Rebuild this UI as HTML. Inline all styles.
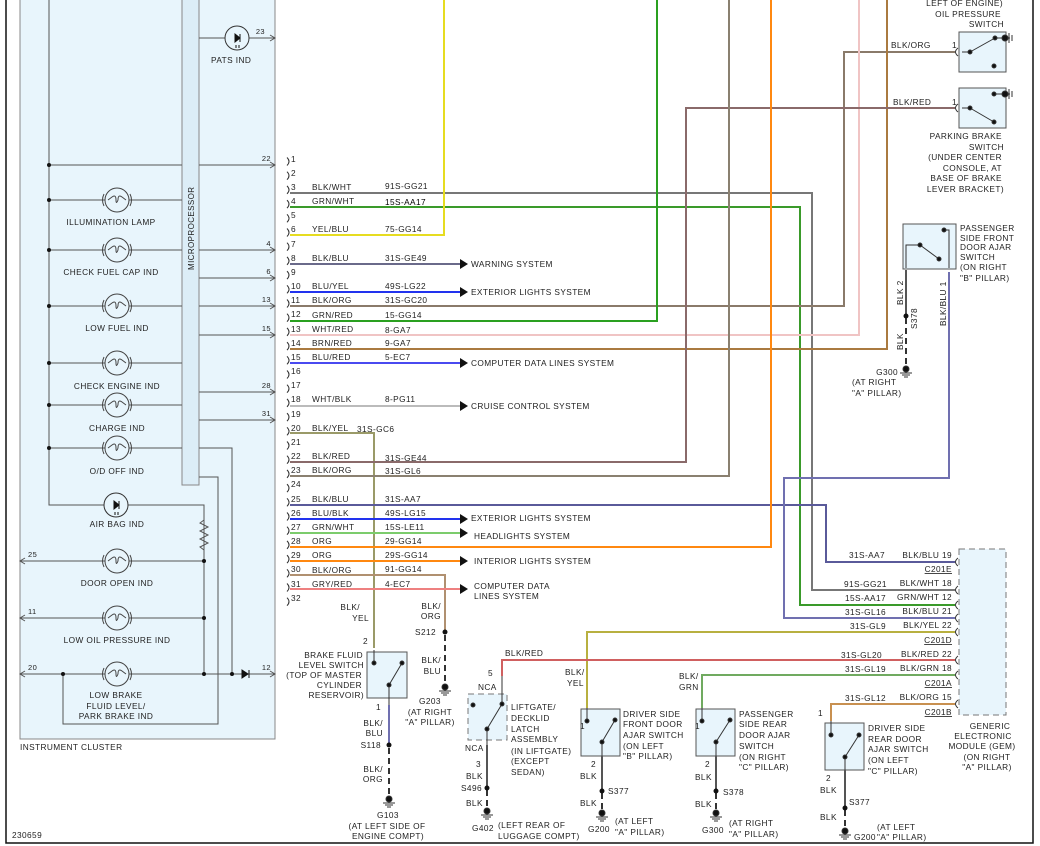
<!DOCTYPE html>
<html><head><meta charset="utf-8"><style>
html,body{margin:0;padding:0;background:#fff;width:1040px;height:846px;overflow:hidden}
svg{display:block}
text{font-family:"Liberation Sans",sans-serif;font-size:8.3px;fill:#222;letter-spacing:0.4px}
.r{text-anchor:end}.m{text-anchor:middle}
</style></head><body>
<svg width="1040" height="846" viewBox="0 0 1040 846" xmlns="http://www.w3.org/2000/svg">
<!-- frame -->
<rect x="6" y="-2" width="1027" height="845" fill="none" stroke="#111" stroke-width="1.5"/>
<!-- cluster box -->
<rect x="20" y="-2" width="255" height="741" fill="#e8f5fc" stroke="#888" stroke-width="1"/>
<rect x="182" y="-2" width="17" height="487" fill="#dcedf7" stroke="#888" stroke-width="1"/>
<text transform="translate(194,270) rotate(-90)" style="font-size:8px">MICROPROCESSOR</text>
<g stroke="#555" stroke-width="1" fill="none">
<path d="M49 -2 V505 H204 V674"/>
<path d="M49 165 H182 M49 200 H182 M49 250 H182 M49 306 H182 M49 363 H182 M49 405 H182 M49 448 H182"/>
<path d="M199 38 H275 M199 165 H275 M199 250 H275 M199 278 H275 M199 306 H275 M199 335 H275 M199 392 H275 M199 420 H275"/>
<path d="M199 448 H232 V674 M199 477 H218 V724 H63 V674"/>
<path d="M20 561 H204 M20 618 H204 M20 674 H275"/>
<path d="M270 35 L275 38 L270 41 M270 162 L275 165 L270 168 M270 247 L275 250 L270 253 M270 275 L275 278 L270 281 M270 303 L275 306 L270 309 M270 332 L275 335 L270 338 M270 389 L275 392 L270 395 M270 417 L275 420 L270 423 M270 671 L275 674 L270 677"/>
<path d="M25 558 L20 561 L25 564 M25 615 L20 618 L25 621 M25 671 L20 674 L25 677"/>
</g>
<path d="M204 520 l-4 3 l8 4 l-8 4 l8 4 l-8 4 l8 4 l-8 4 l4 3" fill="none" stroke="#555" stroke-width="1"/>
<g fill="#111"><circle cx="49" cy="165" r="2"/><circle cx="49" cy="200" r="2"/><circle cx="49" cy="250" r="2"/><circle cx="49" cy="306" r="2"/><circle cx="49" cy="363" r="2"/><circle cx="49" cy="405" r="2"/><circle cx="49" cy="448" r="2"/><circle cx="204" cy="561" r="2"/><circle cx="204" cy="618" r="2"/><circle cx="204" cy="674" r="2"/><circle cx="232" cy="674" r="2"/><circle cx="63" cy="674" r="2"/>
<path d="M242 670 V678 L248 674Z M249 670 V678" stroke="#111"/></g>
<g id="lamps" fill="#e8f5fc" stroke="#444" stroke-width="1"></g>
<!-- LEDs -->
<g stroke="#333" fill="#e8f5fc"><circle cx="237" cy="38" r="12"/><circle cx="116" cy="505" r="12"/></g>
<g fill="#111" stroke="#111"><path d="M235 34 V42 L240 38Z M240 34 V42 M236 45 v3 M239 45 v3"/><path d="M114 501 V509 L119 505Z M119 501 V509 M115 512 v3 M118 512 v3"/></g>
<text x="211" y="63">PATS IND</text>
<text x="265" y="34" class="r" style="font-size:7.5px">23</text>
<text x="271" y="161" class="r" style="font-size:7.5px">22</text>
<text x="271" y="246" class="r" style="font-size:7.5px">4</text>
<text x="271" y="274" class="r" style="font-size:7.5px">6</text>
<text x="271" y="302" class="r" style="font-size:7.5px">13</text>
<text x="271" y="331" class="r" style="font-size:7.5px">15</text>
<text x="271" y="388" class="r" style="font-size:7.5px">28</text>
<text x="271" y="416" class="r" style="font-size:7.5px">31</text>
<text x="271" y="670" class="r" style="font-size:7.5px">12</text>
<text x="28" y="557" style="font-size:7.5px">25</text>
<text x="28" y="614" style="font-size:7.5px">11</text>
<text x="28" y="670" style="font-size:7.5px">20</text>
<text x="111" y="225" class="m">ILLUMINATION LAMP</text>
<text x="111" y="275" class="m">CHECK FUEL CAP IND</text>
<text x="117" y="331" class="m">LOW FUEL IND</text>
<text x="117" y="389" class="m">CHECK ENGINE IND</text>
<text x="117" y="431" class="m">CHARGE IND</text>
<text x="117" y="474" class="m">O/D OFF IND</text>
<text x="117" y="527" class="m">AIR BAG IND</text>
<text x="117" y="586" class="m">DOOR OPEN IND</text>
<text x="117" y="643" class="m">LOW OIL PRESSURE IND</text>
<text x="116" y="698" class="m">LOW BRAKE</text>
<text x="116" y="709" class="m">FLUID LEVEL/</text>
<text x="116" y="719" class="m">PARK BRAKE IND</text>
<text x="20" y="750">INSTRUMENT CLUSTER</text>
<text x="12" y="838">230659</text>

<!-- wires -->
<g fill="none" stroke-width="2">
<path d="M290 193 H812 V590 H955" stroke="#777"/>
<path d="M290 207 H800 V605 H955" stroke="#3a9a2a"/>
<path d="M290 235 H444 V-2" stroke="#e6dc20"/>
<path d="M290 264 H462" stroke="#6a6a8a"/>
<path d="M290 292 H462" stroke="#2233ee"/>
<path d="M290 306 H844 V52 H955" stroke="#8a7a6a"/>
<path d="M290 321 H657 V-2" stroke="#2aa020"/>
<path d="M290 335 H859 V-2" stroke="#f0c4c4"/>
<path d="M290 349 H887 V-2" stroke="#aa7a40"/>
<path d="M290 363 H462" stroke="#4a4af0"/>
<path d="M290 406 H462" stroke="#bbb"/>
<path d="M290 433 H374 V648" stroke="#9a9a68"/>
<path d="M290 462 H686 V108 H955" stroke="#8a6a6a"/>
<path d="M290 476 H729 V-2" stroke="#8a8070"/>
<path d="M290 505 H826 V562 H955" stroke="#5a5a9a"/>
<path d="M290 519 H462" stroke="#2233ee"/>
<path d="M290 533 H462" stroke="#7ccc6c"/>
<path d="M290 547 H771 V-2" stroke="#ff8810"/>
<path d="M290 561 H462" stroke="#ff8810"/>
<path d="M290 575 H445 V632" stroke="#b09070"/>
<path d="M290 589 H462" stroke="#ee8080"/>
<path d="M949 272 V478 H784 V618 H955" stroke="#7070b0"/>
<path d="M955 632 H587 V708" stroke="#b8b040"/>
<path d="M955 660 H502 V676" stroke="#d06060"/>
<path d="M955 675 H702 V708" stroke="#70aa60"/>
<path d="M955 704 H831 V721" stroke="#c89050"/>
<path d="M389 705 V745" stroke="#7070b0"/>
<path d="M487 745 V788 M602 756 V791 M716 756 V791 M845 770 V808 M906 270 V316" stroke="#555"/>
</g>
<g fill="none" stroke="#333" stroke-width="2" stroke-dasharray="6,4">
<path d="M389 748 V800 M445 635 V688 M487 790 V812 M602 793 V814 M716 793 V814 M845 810 V832 M906 318 V370"/>
</g>
<g fill="#111">
<path d="M460 259 L468 264 L460 269Z M460 287 L468 292 L460 297Z M460 358 L468 363 L460 368Z M460 401 L468 406 L460 411Z M460 514 L468 519 L460 524Z M460 528 L468 533 L460 538Z M460 556 L468 561 L460 566Z M460 584 L468 589 L460 594Z"/>
<circle cx="389" cy="745" r="2.5"/><circle cx="445" cy="632" r="2.5"/><circle cx="487" cy="788" r="2.5"/><circle cx="602" cy="791" r="2.5"/><circle cx="716" cy="791" r="2.5"/><circle cx="845" cy="808" r="2.5"/><circle cx="906" cy="316" r="2.5"/>
</g>
<g id="grounds" stroke="#333" fill="#111"></g>
<g id="brk" fill="none" stroke="#333" stroke-width="1"></g>

<!-- pin labels -->
<g style="font-size:7.8px">
<text x="291" y="162">1</text><text x="291" y="176">2</text><text x="291" y="190">3</text><text x="291" y="204">4</text><text x="291" y="218">5</text><text x="291" y="232">6</text><text x="291" y="247">7</text><text x="291" y="261">8</text><text x="291" y="275">9</text><text x="291" y="289">10</text><text x="291" y="303">11</text><text x="291" y="317">12</text><text x="291" y="332">13</text><text x="291" y="346">14</text><text x="291" y="360">15</text><text x="291" y="374">16</text><text x="291" y="388">17</text><text x="291" y="402">18</text><text x="291" y="417">19</text><text x="291" y="431">20</text><text x="291" y="445">21</text><text x="291" y="459">22</text><text x="291" y="473">23</text><text x="291" y="487">24</text><text x="291" y="502">25</text><text x="291" y="516">26</text><text x="291" y="530">27</text><text x="291" y="544">28</text><text x="291" y="558">29</text><text x="291" y="572">30</text><text x="291" y="587">31</text><text x="291" y="601">32</text>
</g>
<text x="312" y="190">BLK/WHT</text><text x="385" y="189">91S-GG21</text>
<text x="312" y="204">GRN/WHT</text><text x="385" y="205" style="fill:#000">15S-AA17</text>
<text x="312" y="232">YEL/BLU</text><text x="385" y="232">75-GG14</text>
<text x="312" y="261">BLK/BLU</text><text x="385" y="261">31S-GE49</text>
<text x="312" y="289">BLU/YEL</text><text x="385" y="289">49S-LG22</text>
<text x="312" y="303">BLK/ORG</text><text x="385" y="303">31S-GC20</text>
<text x="312" y="318">GRN/RED</text><text x="385" y="318">15-GG14</text>
<text x="312" y="332">WHT/RED</text><text x="385" y="333">8-GA7</text>
<text x="312" y="346">BRN/RED</text><text x="385" y="346">9-GA7</text>
<text x="312" y="360">BLU/RED</text><text x="385" y="360">5-EC7</text>
<text x="312" y="402">WHT/BLK</text><text x="385" y="402">8-PG11</text>
<text x="312" y="431">BLK/YEL</text><text x="357" y="432">31S-GC6</text>
<text x="312" y="459">BLK/RED</text><text x="385" y="461">31S-GE44</text>
<text x="312" y="473">BLK/ORG</text><text x="385" y="474">31S-GL6</text>
<text x="312" y="502">BLK/BLU</text><text x="385" y="502">31S-AA7</text>
<text x="312" y="516">BLU/BLK</text><text x="385" y="516">49S-LG15</text>
<text x="312" y="530">GRN/WHT</text><text x="385" y="530">15S-LE11</text>
<text x="312" y="544">ORG</text><text x="385" y="544">29-GG14</text>
<text x="312" y="558">ORG</text><text x="385" y="558">29S-GG14</text>
<text x="312" y="573">BLK/ORG</text><text x="385" y="572">91-GG14</text>
<text x="312" y="587">GRY/RED</text><text x="385" y="587">4-EC7</text>

<text x="471" y="267">WARNING SYSTEM</text>
<text x="471" y="295">EXTERIOR LIGHTS SYSTEM</text>
<text x="471" y="366">COMPUTER DATA LINES SYSTEM</text>
<text x="471" y="409">CRUISE CONTROL SYSTEM</text>
<text x="471" y="521">EXTERIOR LIGHTS SYSTEM</text>
<text x="474" y="539">HEADLIGHTS SYSTEM</text>
<text x="474" y="564">INTERIOR LIGHTS SYSTEM</text>
<text x="474" y="589">COMPUTER DATA</text>
<text x="474" y="599">LINES SYSTEM</text>

<!-- top right switches -->
<text x="1003" y="6" class="r">LEFT OF ENGINE)</text>
<text x="1001" y="17" class="r">OIL PRESSURE</text>
<text x="1004" y="27" class="r">SWITCH</text>
<rect x="959" y="32" width="47" height="40" fill="#e8f5fc" stroke="#555"/>
<rect x="959" y="88" width="47" height="40" fill="#e8f5fc" stroke="#555"/>
<g stroke="#333" fill="#111">
<path d="M962 52 L970 52 M970 52 L995 38 M995 38 H1010 M962 108 H970 M970 108 L994 122 M994 94 H1010" fill="none"/>
<circle cx="970" cy="52" r="2"/><circle cx="995" cy="38" r="2"/><circle cx="994" cy="66" r="2"/><circle cx="1005" cy="38" r="3"/>
<circle cx="970" cy="108" r="2"/><circle cx="994" cy="122" r="2"/><circle cx="994" cy="94" r="2"/><circle cx="1005" cy="94" r="3"/>
<path d="M1009 33 V43 M1012 35 V41 M1009 89 V99 M1012 91 V97" fill="none"/>
</g>
<text x="891" y="48">BLK/ORG</text><text x="952" y="48">1</text>
<text x="893" y="105">BLK/RED</text><text x="952" y="105">1</text>
<text x="1002" y="139" class="r">PARKING BRAKE</text>
<text x="1004" y="150" class="r">SWITCH</text>
<text x="1002" y="160" class="r">(UNDER CENTER</text>
<text x="1002" y="171" class="r">CONSOLE, AT</text>
<text x="1002" y="181" class="r">BASE OF BRAKE</text>
<text x="1004" y="192" class="r">LEVER BRACKET)</text>

<rect x="903" y="224" width="53" height="45" fill="#e8f5fc" stroke="#555"/>
<g stroke="#333" fill="#111"><path d="M906 268 V245 H920 L939 259 M944 230 H949 V268" fill="none"/><circle cx="920" cy="245" r="2"/><circle cx="939" cy="259" r="2"/><circle cx="944" cy="230" r="2"/></g>
<text x="960" y="231">PASSENGER</text><text x="960" y="241">SIDE FRONT</text><text x="960" y="250">DOOR AJAR</text><text x="960" y="260">SWITCH</text><text x="960" y="270">(ON RIGHT</text><text x="960" y="281">"B" PILLAR)</text>
<text transform="translate(903,305) rotate(-90)">BLK 2</text>
<text transform="translate(946,326) rotate(-90)">BLK/BLU 1</text>
<text transform="translate(917,329) rotate(-90)">S378</text>
<text transform="translate(903,350) rotate(-90)">BLK</text>
<text x="898" y="375" class="r">G300</text>
<text x="852" y="385">(AT RIGHT</text>
<text x="852" y="396">"A" PILLAR)</text>

<!-- GEM -->
<rect x="959" y="549" width="47" height="166" fill="#e8f5fc" stroke="#777" stroke-dasharray="6,4"/>
<g style="font-size:7.8px">
<text x="849" y="558">31S-AA7</text><text x="952" y="558" class="r">BLK/BLU 19</text>
<text x="952" y="572" class="r" text-decoration="underline">C201E</text>
<text x="844" y="587">91S-GG21</text><text x="952" y="586" class="r">BLK/WHT 18</text>
<text x="845" y="601">15S-AA17</text><text x="952" y="600" class="r">GRN/WHT 12</text>
<text x="845" y="615">31S-GL16</text><text x="952" y="614" class="r">BLK/BLU 21</text>
<text x="850" y="629">31S-GL9</text><text x="952" y="628" class="r">BLK/YEL 22</text>
<text x="952" y="643" class="r" text-decoration="underline">C201D</text>
<text x="841" y="658">31S-GL20</text><text x="952" y="657" class="r">BLK/RED  22</text>
<text x="845" y="672">31S-GL19</text><text x="952" y="671" class="r">BLK/GRN 18</text>
<text x="952" y="686" class="r" text-decoration="underline">C201A</text>
<text x="845" y="701">31S-GL12</text><text x="952" y="700" class="r">BLK/ORG 15</text>
<text x="952" y="715" class="r" text-decoration="underline">C201B</text>
</g>
<text x="990" y="729" class="m">GENERIC</text><text x="983" y="739" class="m">ELECTRONIC</text><text x="982" y="749" class="m">MODULE (GEM)</text><text x="987" y="760" class="m">(ON RIGHT</text><text x="987" y="770" class="m">"A" PILLAR)</text>

<!-- bottom switches -->
<rect x="367" y="652" width="40" height="46" fill="#e8f5fc" stroke="#555"/>
<rect x="468" y="694" width="39" height="46" fill="#e8f5fc" stroke="#777" stroke-dasharray="6,4"/>
<rect x="581" y="709" width="39" height="47" fill="#e8f5fc" stroke="#555"/>
<rect x="696" y="709" width="39" height="47" fill="#e8f5fc" stroke="#555"/>
<rect x="825" y="723" width="39" height="47" fill="#e8f5fc" stroke="#555"/>
<g stroke="#333" fill="#111">
<path d="M374 650 V663 M389 685 V705 M389 685 L402 663" fill="none"/><circle cx="374" cy="663" r="2"/><circle cx="389" cy="685" r="2"/><circle cx="402" cy="663" r="2"/>
<path d="M502 676 V704 M487 729 V745 M487 729 L502 704" fill="none"/><circle cx="473" cy="705" r="2"/><circle cx="487" cy="729" r="2"/><circle cx="502" cy="704" r="2"/>
<path d="M587 708 V721 M602 742 V756 M602 742 L615 720" fill="none"/><circle cx="587" cy="721" r="2"/><circle cx="602" cy="742" r="2"/><circle cx="615" cy="720" r="2"/>
<path d="M702 708 V721 M716 742 V756 M716 742 L730 720" fill="none"/><circle cx="702" cy="721" r="2"/><circle cx="716" cy="742" r="2"/><circle cx="730" cy="720" r="2"/>
<path d="M831 721 V735 M845 757 V770 M845 757 L859 735" fill="none"/><circle cx="831" cy="735" r="2"/><circle cx="845" cy="757" r="2"/><circle cx="859" cy="735" r="2"/>
</g>
<text x="360" y="610" class="r">BLK/</text><text x="369" y="621" class="r">YEL</text>
<text x="368" y="644" class="r">2</text>
<text x="363" y="658" class="r">BRAKE FLUID</text><text x="364" y="668" class="r">LEVEL SWITCH</text><text x="362" y="678" class="r">(TOP OF MASTER</text><text x="362" y="688" class="r">CYLINDER</text><text x="364" y="698" class="r">RESERVOIR)</text>
<text x="381" y="710" class="r">1</text>
<text x="383" y="726" class="r">BLK/</text><text x="383" y="736" class="r">BLU</text>
<text x="381" y="748" class="r">S118</text>
<text x="383" y="772" class="r">BLK/</text><text x="383" y="782" class="r">ORG</text>
<text x="388" y="818" class="m">G103</text><text x="387" y="829" class="m">(AT LEFT SIDE OF</text><text x="388" y="839" class="m">ENGINE COMPT)</text>
<text x="441" y="609" class="r">BLK/</text><text x="441" y="619" class="r">ORG</text>
<text x="436" y="635" class="r">S212</text>
<text x="441" y="663" class="r">BLK/</text><text x="441" y="674" class="r">BLU</text>
<text x="430" y="704" class="m">G203</text><text x="430" y="715" class="m">(AT RIGHT</text><text x="430" y="725" class="m">"A" PILLAR)</text>

<text x="505" y="656">BLK/RED</text>
<text x="488" y="676">5</text><text x="478" y="690">NCA</text>
<text x="511" y="710">LIFTGATE/</text><text x="511" y="721">DECKLID</text><text x="511" y="732">LATCH</text><text x="511" y="742">ASSEMBLY</text><text x="511" y="754">(IN LIFTGATE)</text><text x="511" y="764">(EXCEPT</text><text x="511" y="775">SEDAN)</text>
<text x="465" y="751">NCA</text><text x="476" y="767">3</text><text x="466" y="779">BLK</text><text x="461" y="791">S496</text><text x="466" y="806">BLK</text>
<text x="472" y="831">G402</text><text x="498" y="828">(LEFT REAR OF</text><text x="498" y="839">LUGGAGE COMPT)</text>

<text x="565" y="675">BLK/</text><text x="567" y="686">YEL</text><text x="580" y="729">1</text>
<text x="623" y="717">DRIVER SIDE</text><text x="623" y="727">FRONT DOOR</text><text x="623" y="738">AJAR SWITCH</text><text x="623" y="749">(ON LEFT</text><text x="623" y="759">"B" PILLAR)</text>
<text x="591" y="767">2</text><text x="580" y="779">BLK</text><text x="608" y="794">S377</text><text x="580" y="806">BLK</text>
<text x="588" y="832">G200</text><text x="615" y="824">(AT LEFT</text><text x="615" y="835">"A" PILLAR)</text>

<text x="679" y="679">BLK/</text><text x="679" y="690">GRN</text><text x="695" y="729">1</text>
<text x="739" y="717">PASSENGER</text><text x="739" y="727">SIDE REAR</text><text x="739" y="738">DOOR AJAR</text><text x="739" y="749">SWITCH</text><text x="739" y="760">(ON RIGHT</text><text x="739" y="770">"C" PILLAR)</text>
<text x="705" y="767">2</text><text x="695" y="780">BLK</text><text x="723" y="795">S378</text><text x="695" y="807">BLK</text>
<text x="702" y="833">G300</text><text x="729" y="826">(AT RIGHT</text><text x="729" y="837">"A" PILLAR)</text>

<text x="818" y="716">1</text>
<text x="868" y="731">DRIVER SIDE</text><text x="868" y="742">REAR DOOR</text><text x="868" y="752">AJAR SWITCH</text><text x="868" y="763">(ON LEFT</text><text x="868" y="774">"C" PILLAR)</text>
<text x="826" y="781">2</text><text x="820" y="793">BLK</text><text x="849" y="805">S377</text><text x="820" y="820">BLK</text>
<text x="854" y="840">G200</text><text x="877" y="830">(AT LEFT</text><text x="877" y="840">"A" PILLAR)</text>
</svg>
<script>
var ns="http://www.w3.org/2000/svg";
function el(p,t,a){var e=document.createElementNS(ns,t);for(var k in a)e.setAttribute(k,a[k]);document.getElementById(p).appendChild(e);return e;}
[200,250,306,363,405,448,561,618,674].forEach(function(y){var x=117;
el('lamps','circle',{cx:x,cy:y,r:12});
el('lamps','path',{d:'M'+(x-13)+' '+(y-6)+' q-3 6 0 12 M'+(x+13)+' '+(y-6)+' q3 6 0 12 M'+(x-9)+' '+y+' l4 -3 q4 -3 4 3 q0 5 2 0 q0 -6 4 -3 l4 3',fill:'none'});});
for(var n=1;n<=32;n++){var y=150.3+14.2*n;el('brk','path',{d:'M287 '+(y-7)+' q4 4 0 8'});}
[[955,52],[955,108],[955,562],[955,590],[955,605],[955,618],[955,632],[955,660],[955,675],[955,704]].forEach(function(p){el('brk','path',{d:'M'+(p[0]+3)+' '+(p[1]-4)+' q-5 4 0 8'});});
[[389,802],[445,690],[487,814],[602,816],[716,816],[845,834],[906,372]].forEach(function(p){var x=p[0],y=p[1];
el('grounds','circle',{cx:x,cy:y-3,r:3});
el('grounds','path',{d:'M'+(x-6)+' '+(y+1)+' h12 M'+(x-4)+' '+(y+3)+' h8 M'+(x-2)+' '+(y+5)+' h4',fill:'none'});});
</script>
</body></html>
